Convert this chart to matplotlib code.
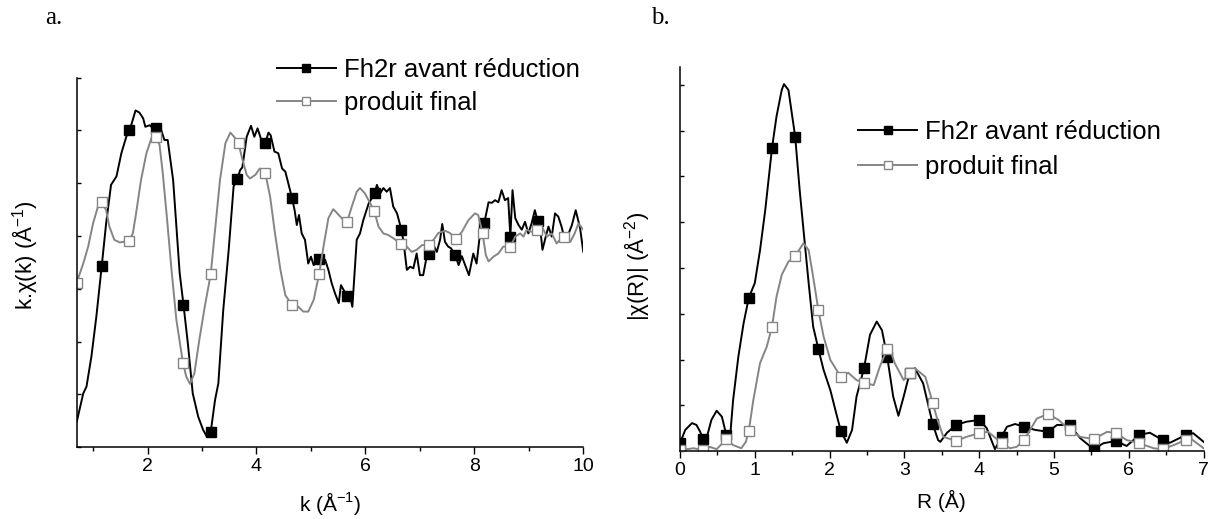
"""EXAFS spectra: k-space signal (a) and Fourier transform magnitude (b)."""

import numpy as np
import matplotlib

matplotlib.use("Agg")
import matplotlib.pyplot as plt
from matplotlib.lines import Line2D

plt.rcParams["font.family"] = ["Liberation Sans", "DejaVu Sans"]
plt.rcParams["mathtext.fontset"] = "custom"
plt.rcParams["mathtext.rm"] = "Liberation Sans"

LABELS = ["Fh2r avant réduction", "produit final"]

# --- panel a: k.chi(k), arbitrary units (ticks unlabelled) ---
k_fh2r = [
    0.70, 0.82, 0.88, 0.97, 1.06, 1.16, 1.24, 1.33, 1.43, 1.52,
    1.61, 1.66, 1.70, 1.78, 1.85, 1.92, 1.96, 2.04, 2.10, 2.16,
    2.25, 2.31, 2.37, 2.47, 2.53, 2.59, 2.66, 2.74, 2.83, 2.93,
    3.02, 3.09, 3.16, 3.24, 3.30, 3.39, 3.49, 3.58, 3.65, 3.70,
    3.74, 3.82, 3.90, 3.96, 4.02, 4.08, 4.16, 4.22, 4.26, 4.33,
    4.40, 4.47, 4.53, 4.65, 4.70, 4.74, 4.78, 4.83, 4.89, 4.95,
    5.00, 5.05, 5.14, 5.20, 5.26, 5.32, 5.38, 5.44, 5.51, 5.55,
    5.66, 5.72, 5.76, 5.84, 5.90, 5.96, 6.06, 6.17, 6.21, 6.27,
    6.33, 6.39, 6.45, 6.51, 6.58, 6.66, 6.70, 6.76, 6.82, 6.88,
    6.94, 7.00, 7.06, 7.13, 7.17, 7.25, 7.31, 7.37, 7.41, 7.46,
    7.52, 7.57, 7.65, 7.71, 7.77, 7.83, 7.90, 7.98, 8.04, 8.09,
    8.18, 8.26, 8.32, 8.38, 8.44, 8.50, 8.56, 8.62, 8.66, 8.70,
    8.75, 8.81, 8.87, 8.93, 8.99, 9.05, 9.11, 9.16, 9.21, 9.25,
    9.31, 9.36, 9.42, 9.48, 9.54, 9.60, 9.66, 9.73, 9.79, 9.86,
    9.94, 10.0,
]
chi_fh2r = [
    0.48, 1.02, 1.15, 1.72, 2.47, 3.44, 4.24, 4.97, 5.13, 5.57,
    5.88, 6.01, 6.10, 6.38, 6.34, 6.23, 6.07, 6.10, 6.04, 6.05,
    6.01, 5.82, 5.82, 5.06, 4.18, 3.30, 2.70, 1.97, 1.02, 0.58,
    0.33, 0.20, 0.29, 0.90, 1.21, 2.60, 3.74, 4.94, 5.08, 5.25,
    5.30, 5.88, 6.09, 5.88, 6.04, 5.85, 5.76, 5.96, 5.91, 5.60,
    5.57, 5.28, 5.22, 4.73, 4.49, 4.21, 4.40, 4.05, 3.93, 3.48,
    3.61, 3.45, 3.56, 3.48, 3.55, 3.36, 3.11, 2.92, 2.73, 3.07,
    2.87, 2.85, 2.66, 3.93, 4.05, 4.30, 4.62, 4.81, 4.97, 4.81,
    4.91, 4.84, 4.91, 4.56, 4.43, 4.12, 3.89, 3.36, 3.42, 3.39,
    3.67, 3.26, 3.26, 3.64, 3.67, 3.83, 3.70, 3.93, 4.23, 3.89,
    3.80, 3.77, 3.64, 3.45, 3.62, 3.45, 3.26, 3.67, 3.48, 3.93,
    4.24, 4.64, 4.63, 4.68, 4.64, 4.87, 4.68, 4.72, 3.99, 4.87,
    4.34, 4.21, 4.12, 4.27, 4.05, 4.24, 4.49, 4.29, 4.12, 3.74,
    3.99, 4.18, 3.99, 4.43, 4.37, 4.18, 3.93, 4.05, 4.21, 4.49,
    4.15, 3.70,
]
k_fh2r_markers = [1.16, 1.66, 2.16, 2.66, 3.16, 3.65, 4.16, 4.65, 5.14,
                  5.66, 6.17, 6.66, 7.17, 7.65, 8.18, 8.66, 9.16]

k_final = [
    0.70, 0.82, 0.91, 1.00, 1.09, 1.16, 1.24, 1.30, 1.39, 1.49,
    1.66, 1.73, 1.79, 1.88, 1.98, 2.07, 2.15, 2.22, 2.28, 2.36,
    2.44, 2.53, 2.65, 2.71, 2.78, 2.86, 2.95, 3.05, 3.16, 3.24,
    3.33, 3.43, 3.52, 3.59, 3.67, 3.73, 3.82, 3.88, 3.98, 4.06,
    4.16, 4.25, 4.34, 4.44, 4.53, 4.65, 4.77, 4.86, 4.95, 5.05,
    5.15, 5.23, 5.32, 5.41, 5.51, 5.60, 5.66, 5.75, 5.84, 5.90,
    5.99, 6.16, 6.24, 6.33, 6.42, 6.51, 6.66, 6.76, 6.85, 6.94,
    7.04, 7.16, 7.25, 7.34, 7.46, 7.55, 7.66, 7.77, 7.89, 8.01,
    8.07, 8.15, 8.21, 8.26, 8.35, 8.44, 8.53, 8.66, 8.75, 8.84,
    8.90, 8.96, 9.05, 9.15, 9.24, 9.33, 9.42, 9.51, 9.57, 9.65,
    9.76, 9.84, 9.91, 10.0,
]
chi_final = [
    3.12, 3.48, 3.80, 4.24, 4.56, 4.65, 4.49, 4.18, 3.93, 3.88,
    3.91, 4.05, 4.43, 5.06, 5.57, 5.85, 5.88, 5.73, 5.19, 4.30,
    3.36, 2.41, 1.60, 1.34, 1.20, 1.40, 2.03, 2.66, 3.28, 4.12,
    5.06, 5.76, 5.96, 5.88, 5.76, 5.50, 5.16, 5.09, 5.16, 5.28,
    5.20, 4.75, 4.05, 3.36, 2.88, 2.70, 2.66, 2.57, 2.57, 2.79,
    3.28, 3.80, 4.34, 4.51, 4.40, 4.30, 4.26, 4.56, 4.84, 4.91,
    4.81, 4.48, 4.18, 4.05, 4.02, 3.96, 3.85, 3.80, 3.70, 3.74,
    3.83, 3.83, 3.93, 4.06, 4.10, 4.06, 3.94, 4.08, 4.30, 4.43,
    4.40, 4.05, 3.64, 3.52, 3.61, 3.67, 3.80, 3.80, 3.99, 4.05,
    3.99, 4.12, 4.08, 4.12, 4.18, 3.99, 4.05, 3.86, 3.93, 3.99,
    3.89, 4.05, 4.24, 4.12,
]
k_final_markers = [0.70, 1.16, 1.66, 2.15, 2.65, 3.16, 3.67, 4.16, 4.65, 5.15,
                   5.66, 6.16, 6.66, 7.16, 7.66, 8.15, 8.66, 9.15, 9.65]

# --- panel b: |chi(R)|, arbitrary units ---
r_fh2r = [
    0.00, 0.07, 0.16, 0.22, 0.27, 0.31, 0.36, 0.42, 0.49, 0.56,
    0.62, 0.67, 0.71, 0.78, 0.85, 0.92, 1.00, 1.07, 1.14, 1.23,
    1.29, 1.36, 1.39, 1.45, 1.54, 1.60, 1.66, 1.72, 1.78, 1.85,
    1.92, 2.01, 2.10, 2.15, 2.23, 2.30, 2.36, 2.46, 2.54, 2.63,
    2.70, 2.77, 2.85, 2.92, 2.99, 3.07, 3.14, 3.25, 3.38, 3.45,
    3.48, 3.57, 3.69, 3.83, 4.00, 4.10, 4.21, 4.30, 4.37, 4.48,
    4.60, 4.75, 4.92, 5.04, 5.21, 5.35, 5.53, 5.66, 5.83, 5.97,
    6.14, 6.28, 6.45, 6.55, 6.76, 6.86, 7.00,
]
ft_fh2r = [
    0.17, 0.46, 0.61, 0.57, 0.42, 0.26, 0.31, 0.68, 0.88, 0.75,
    0.35, 0.31, 1.11, 2.06, 2.79, 3.35, 3.67, 4.39, 5.27, 6.62,
    7.31, 7.89, 8.02, 7.89, 6.87, 5.70, 4.68, 3.67, 2.72, 2.23,
    1.77, 1.33, 0.75, 0.44, 0.18, 0.46, 1.19, 1.81, 2.54, 2.83,
    2.64, 2.06, 1.19, 0.77, 1.19, 1.70, 1.81, 1.48, 0.58, 0.24,
    0.20, 0.40, 0.57, 0.64, 0.68, 0.50, 0.04, 0.31, 0.53, 0.59,
    0.53, 0.46, 0.42, 0.57, 0.57, 0.28, 0.04, 0.17, 0.22, 0.11,
    0.35, 0.40, 0.24, 0.18, 0.35, 0.39, 0.20,
]
r_final = [
    0.00, 0.18, 0.31, 0.40, 0.49, 0.62, 0.71, 0.82, 0.88, 0.92,
    0.98, 1.07, 1.16, 1.23, 1.29, 1.36, 1.45, 1.54, 1.65, 1.72,
    1.78, 1.85, 1.92, 2.01, 2.15, 2.25, 2.36, 2.46, 2.59, 2.67,
    2.77, 2.80, 2.87, 2.99, 3.07, 3.14, 3.28, 3.38, 3.43, 3.52,
    3.69, 3.83, 4.00, 4.12, 4.30, 4.41, 4.50, 4.60, 4.77, 4.92,
    5.06, 5.21, 5.35, 5.53, 5.71, 5.83, 5.97, 6.14, 6.33, 6.45,
    6.60, 6.76, 6.82, 7.00,
]
ft_final = [
    0.02, 0.06, 0.02, 0.09, 0.04, 0.26, 0.13, 0.06, 0.20, 0.44,
    1.11, 1.92, 2.28, 2.72, 3.37, 3.85, 4.14, 4.26, 4.54, 4.39,
    3.81, 3.08, 2.50, 1.99, 1.62, 1.71, 1.55, 1.49, 1.44, 1.84,
    2.23, 2.27, 1.92, 1.55, 1.71, 1.81, 1.62, 1.04, 0.75, 0.31,
    0.22, 0.31, 0.39, 0.42, 0.17, 0.06, 0.09, 0.24, 0.71, 0.81,
    0.68, 0.46, 0.31, 0.26, 0.42, 0.39, 0.24, 0.17, 0.06, 0.04,
    0.13, 0.24, 0.28, 0.06,
]
r_markers = [0.00, 0.31, 0.62, 0.92, 1.23, 1.54, 1.85, 2.15, 2.46, 2.77, 3.07, 3.38,
             3.69, 4.00, 4.30, 4.60, 4.92, 5.21, 5.53, 5.83, 6.14, 6.45, 6.76]

GRAY = "#858585"
STYLES = [
    dict(color="black", mfc="black", mec="black", ms=6.5),
    dict(color=GRAY, mfc="white", mec=GRAY, ms=6.5),
]


def draw_series(ax, x, y, marks, style):
    x = np.asarray(x)
    ax.plot(x, y, color=style["color"], lw=1.4, marker="s",
            markevery=list(np.isin(x, marks)), ms=style["ms"],
            mfc=style["mfc"], mec=style["mec"], mew=1.0)


def style_axis(ax):
    for side in ("top", "right"):
        ax.spines[side].set_visible(False)
    for side in ("left", "bottom"):
        ax.spines[side].set_linewidth(1.1)
    ax.tick_params(axis="y", which="both", direction="in", length=3,
                   width=1.0, labelleft=False)
    ax.tick_params(axis="x", which="major", direction="out", length=5,
                   width=1.0, labelsize=14, pad=3)
    ax.tick_params(axis="x", which="minor", direction="out", length=3, width=1.0)


def legend_handles():
    handles = []
    for st in STYLES:
        handles.append(Line2D([], [], color=st["color"], lw=1.4, marker="s",
                              ms=5.5, mfc=st["mfc"], mec=st["mec"], mew=1.0))
    return handles


fig = plt.figure(figsize=(12.08, 5.19), dpi=100)

# panel a
ax1 = fig.add_axes([0.0635, 0.1382, 0.4194, 0.7121])
draw_series(ax1, k_fh2r, chi_fh2r, k_fh2r_markers, STYLES[0])
draw_series(ax1, k_final, chi_final, k_final_markers, STYLES[1])
ax1.set_xlim(0.70, 10.0)
ax1.set_ylim(0, 7.0)
ax1.set_xticks([2, 4, 6, 8, 10])
ax1.set_xticks([1, 3, 5, 7, 9], minor=True)
ax1.set_yticks(range(0, 8))
style_axis(ax1)
ax1.set_xlabel(r"k (Å$^{\mathregular{-1}}$)", fontsize=15)
ax1.set_ylabel(r"k.χ(k) (Å$^{\mathregular{-1}}$)", fontsize=16)
ax1.xaxis.set_label_coords(0.5, -0.115)
ax1.yaxis.set_label_coords(-0.072, 0.52)
fig.legend(legend_handles(), LABELS, loc="center left",
           bbox_to_anchor=(276.7 / 1208, 1 - 86.4 / 519), frameon=False,
           fontsize=18.5, handlelength=2.3, handletextpad=0.3,
           labelspacing=0.33, borderpad=0, borderaxespad=0)

# panel b
ax2 = fig.add_axes([0.5629, 0.1310, 0.4335, 0.7405])
draw_series(ax2, r_fh2r, ft_fh2r, r_markers, STYLES[0])
draw_series(ax2, r_final, ft_final, r_markers, STYLES[1])
ax2.set_xlim(0, 7)
ax2.set_ylim(0, 8.4)
ax2.set_xticks(range(0, 8))
ax2.set_xticks(np.arange(0.5, 7, 1.0), minor=True)
ax2.set_yticks(range(0, 9))
style_axis(ax2)
ax2.set_xlabel("R (Å)", fontsize=15)
ax2.set_ylabel(r"|χ(R)| (Å$^{\mathregular{-2}}$)", fontsize=16)
ax2.xaxis.set_label_coords(0.5, -0.101)
ax2.yaxis.set_label_coords(-0.053, 0.48)
fig.legend(legend_handles(), LABELS, loc="center left",
           bbox_to_anchor=(858 / 1208, 1 - 149.5 / 519), frameon=False,
           fontsize=18.5, handlelength=2.3, handletextpad=0.3,
           labelspacing=0.4, borderpad=0, borderaxespad=0)

fig.text(45 / 1208, 1 - 24 / 519, "a.", family="Liberation Serif", fontsize=18,
         va="baseline")
fig.text(651 / 1208, 1 - 24 / 519, "b.", family="Liberation Serif", fontsize=18,
         va="baseline")

fig.savefig("out.png", dpi=100)
